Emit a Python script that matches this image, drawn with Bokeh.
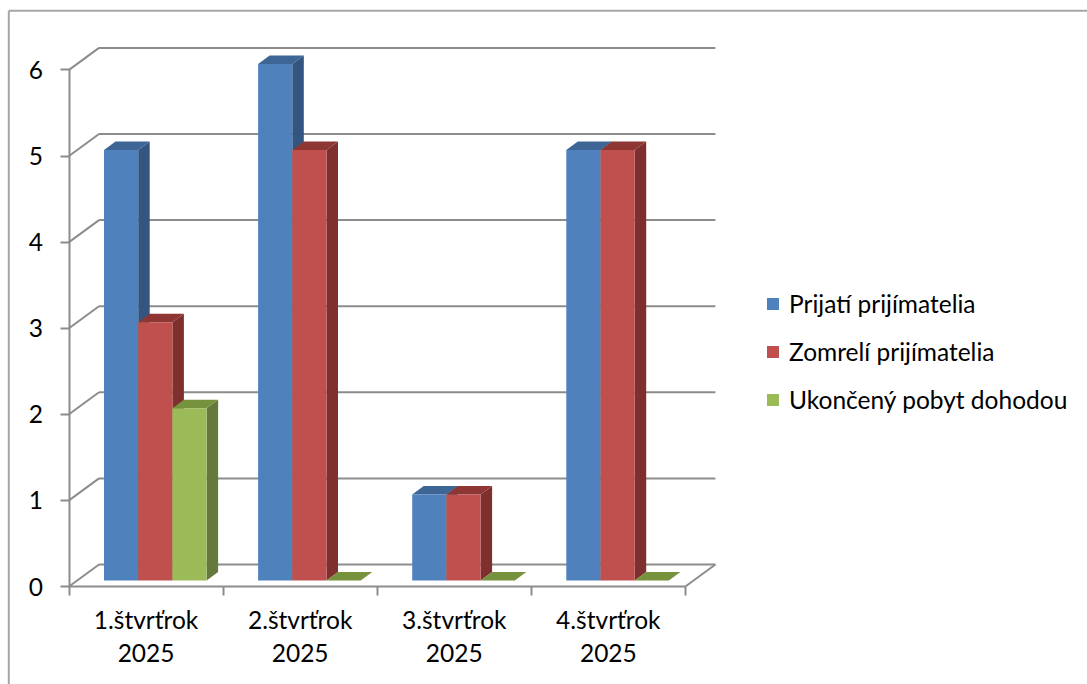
from bokeh.plotting import figure
from bokeh.models import Range1d, LinearAxis, FixedTicker, Legend, LegendItem
from bokeh.embed import file_html
from bokeh.resources import INLINE

categories = ["1.štvrťrok\n2025", "2.štvrťrok\n2025", "3.štvrťrok\n2025", "4.štvrťrok\n2025"]
series_names = ["Prijatí prijímatelia", "Zomrelí prijímatelia", "Ukončený pobyt dohodou"]
prijati = [5, 6, 1, 5]
zomreli = [3, 5, 1, 5]
ukonceny = [2, 0, 0, 0]
y_ticks = [0, 1, 2, 3, 4, 5, 6]

front_colors = ["#4f81bd", "#c0504d", "#9bbb59"]
side_colors = ["#34557f", "#7f2f2d", "#66793d"]
top_colors = ["#3d6596", "#8e3634", "#76923c"]
GRID = "#8c8c8c"
FONT = "Lato"
SIZE = "24.5px"

# layout in pixels of the page
W, H = 1087, 684
PX_X, PX_Y = 154.1, 86.1       # pixels per category / per unit
ORIGIN_X, ORIGIN_Y = 68.5, 586
WALL_DX, WALL_DY = 30 / PX_X, 22 / PX_Y
BAR_W = 34.2 / PX_X
BAR_OFF = 35 / PX_X
BAR_BASE = 6 / PX_Y
BAR_DX, BAR_DY = 11.5 / PX_X, 8.5 / PX_Y

p = figure(width=W, height=H, output_backend="svg", toolbar_location=None,
           x_range=Range1d(-ORIGIN_X / PX_X, (W - ORIGIN_X) / PX_X),
           y_range=Range1d((ORIGIN_Y - H) / PX_Y, ORIGIN_Y / PX_Y),
           x_axis_type=None, y_axis_type=None,
           min_border=0, min_border_left=0, min_border_right=0,
           min_border_top=0, min_border_bottom=0, outline_line_color=None,
           background_fill_color="white", border_fill_color="white")
p.grid.visible = False
n = len(categories)

# chart-area frame
xr = p.x_range.end
yb = p.y_range.start
frame_x = (8.3 - ORIGIN_X) / PX_X
frame_y = (ORIGIN_Y - 10.3) / PX_Y
p.segment([frame_x, frame_x], [yb, frame_y], [frame_x, xr], [frame_y, frame_y],
          line_color="#a6a6a6", line_width=2)

# back wall gridlines and left-wall diagonals
p.segment([WALL_DX] * 7, [t + WALL_DY for t in y_ticks], [n + WALL_DX] * 7, [t + WALL_DY for t in y_ticks],
          line_color=GRID, line_width=2)
p.segment([0] * 7, y_ticks, [WALL_DX] * 7, [t + WALL_DY for t in y_ticks], line_color=GRID, line_width=2)
p.segment([n], [0], [n + WALL_DX], [WALL_DY], line_color=GRID, line_width=2)

# bars
legend_items = []
for s, (name, vals) in enumerate(zip(series_names, [prijati, zomreli, ukonceny])):
    left = [g + BAR_OFF + s * BAR_W for g in range(n)]
    right = [x + BAR_W for x in left]
    top = [BAR_BASE + v for v in vals]
    p.patches([[r, r + BAR_DX, r + BAR_DX, r] for r in right],
              [[BAR_BASE, BAR_BASE + BAR_DY, t + BAR_DY, t] for t in top],
              fill_color=side_colors[s], line_color=None)
    p.patches([[l, r, r + BAR_DX, l + BAR_DX] for l, r in zip(left, right)],
              [[t, t, t + BAR_DY, t + BAR_DY] for t in top],
              fill_color=top_colors[s], line_color=None)
    front = p.quad(left=left, right=right, bottom=[BAR_BASE] * n, top=top,
                   fill_color=front_colors[s], line_color=None)
    legend_items.append(LegendItem(label=name, renderers=[front]))

# axes
yaxis = LinearAxis(ticker=FixedTicker(ticks=y_ticks), fixed_location=0, bounds=(0, 6))
yaxis.axis_line_color = GRID
yaxis.axis_line_width = 2
yaxis.major_tick_line_color = GRID
yaxis.major_tick_line_width = 2
yaxis.major_tick_in = 0
yaxis.major_tick_out = 9
yaxis.minor_tick_line_color = None
yaxis.major_label_standoff = 17
yaxis.major_label_text_font = FONT
yaxis.major_label_text_font_size = SIZE
yaxis.major_label_text_color = "black"
p.add_layout(yaxis, "left")

centers = [g + 0.5 for g in range(n)]
xaxis = LinearAxis(ticker=FixedTicker(ticks=centers, minor_ticks=list(range(n + 1))),
                   fixed_location=0, bounds=(0, n))
xaxis.major_label_overrides = {c: t for c, t in zip(centers, categories)}
xaxis.axis_line_color = GRID
xaxis.axis_line_width = 2
xaxis.major_tick_line_color = None
xaxis.major_tick_in = 0
xaxis.major_tick_out = 0
xaxis.minor_tick_line_color = GRID
xaxis.minor_tick_line_width = 2
xaxis.minor_tick_in = 0
xaxis.minor_tick_out = 9
xaxis.major_label_standoff = 9
xaxis.major_label_text_font = FONT
xaxis.major_label_text_font_size = SIZE
xaxis.major_label_text_line_height = 1.16
xaxis.major_label_text_color = "black"
p.add_layout(xaxis, "below")

legend = Legend(items=legend_items, location=(765, H - 413.5), orientation="vertical",
                glyph_width=15, glyph_height=15, label_standoff=9, spacing=19,
                padding=0, margin=0, border_line_color=None, background_fill_alpha=0,
                label_text_font=FONT, label_text_font_size=SIZE, label_text_color="black",
                label_height=20)
p.add_layout(legend, "center")

open("out.html", "w").write(file_html(p, INLINE))
